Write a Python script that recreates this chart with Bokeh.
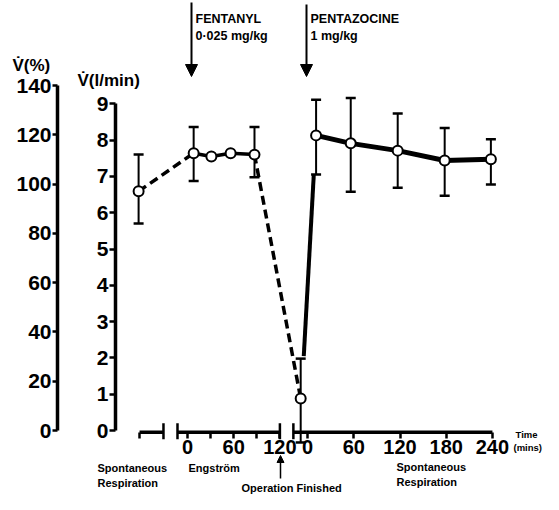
from bokeh.plotting import figure
from bokeh.models import Range1d, LinearAxis, FixedTicker, Label, Arrow, NormalHead
from bokeh.embed import file_html
from bokeh.resources import INLINE

# ---------------- data ----------------
# composite time axis: Engstrom minutes as-is, post-operative minutes shifted by POST_OFFSET
POST_OFFSET = 156
SPONT_POS = -63.5

spont_x = [SPONT_POS]
spont_v = [6.59]
spont_lo = [5.70]
spont_hi = [7.60]

eng_t = [8, 31, 56, 87]
eng_v = [7.64, 7.55, 7.64, 7.60]
eng_err_t = [8, 87]
eng_err_lo = [6.87, 6.98]
eng_err_hi = [8.36, 8.36]

end_t = [-9]          # operation finished (post-op clock)
end_v = [0.88]
end_lo = [-0.33]
end_hi = [1.98]

rise_t = [-5, 8]
rise_v = [2.05, 7.05]

post_t = [11, 56, 117, 178, 238]
post_v = [8.13, 7.91, 7.71, 7.44, 7.47]
post_lo = [7.05, 6.58, 6.69, 6.47, 6.78]
post_hi = [9.11, 9.16, 8.73, 8.33, 8.02]

lmin_ticks = [0, 1, 2, 3, 4, 5, 6, 7, 8, 9]
pct_ticks = [0, 20, 40, 60, 80, 100, 120, 140]
eng_ticks = [0, 60, 120]
eng_minor = [30, 90]
post_ticks = [0, 60, 120, 180, 240]
time_labels = ["0", "60", "120", "0", "60", "120", "180", "240"]

# pieces of the broken time axis (composite units)
axis_x0 = [-62.3, -13, 137.5]
axis_x1 = [-31.2, 120, 396]
axis_bars = [-31.2, -13, 137.5, 120]

# ---------------- layout helpers ----------------
PX0, PXM = 187.0, 0.77       # picture x of composite 0, px per minute
PY0, PYU = 430.0, 36.3       # picture y of 0 l/min, px per l/min
W, H = 543, 494


def px2x(X):
    return (X - PX0) / PXM


def px2y(Y):
    return (PY0 - Y) / PYU


x_start, x_end = px2x(0), px2x(W)
y_start, y_end = px2y(H), px2y(0)
PCT_F = 140.0 / px2y(85)

FONT = "Liberation Sans"

p = figure(width=W, height=H, x_range=Range1d(x_start, x_end),
           y_range=Range1d(y_start, y_end), output_backend="svg",
           toolbar_location=None, min_border=0)
p.outline_line_color = None
p.xgrid.visible = False
p.ygrid.visible = False
p.background_fill_color = "white"
p.border_fill_color = "white"
p.extra_y_ranges = {"pct": Range1d(y_start * PCT_F, y_end * PCT_F)}


def style_axis(ax, tick_out, size="21px"):
    ax.axis_line_width = 3.5
    ax.major_tick_line_width = 2.5
    ax.major_tick_out = tick_out
    ax.major_tick_in = 0
    ax.major_label_standoff = 1
    ax.major_label_text_font = FONT
    ax.major_label_text_font_style = "bold"
    ax.major_label_text_font_size = size
    ax.major_label_text_color = "black"


# l/min axis
ya = p.yaxis[0]
ya.fixed_location = px2x(115)
ya.ticker = FixedTicker(ticks=lmin_ticks, minor_ticks=[])
ya.bounds = (0, 9)
ya.minor_tick_line_color = None
style_axis(ya, 6)

# % axis
pa = LinearAxis(y_range_name="pct", fixed_location=px2x(57),
                ticker=FixedTicker(ticks=pct_ticks, minor_ticks=[]), bounds=(0, 140))
pa.minor_tick_line_color = None
style_axis(pa, 5)
p.add_layout(pa, "left")

# time axis
xa = p.xaxis[0]
xa.fixed_location = -0.05
major_pos = eng_ticks + [t + POST_OFFSET for t in post_ticks]
xa.ticker = FixedTicker(ticks=major_pos, minor_ticks=eng_minor + [axis_x0[0]])
xa.major_label_overrides = {pos: lab for pos, lab in zip(major_pos, time_labels)}
style_axis(xa, 6, "20px")
xa.axis_line_color = None
xa.minor_tick_line_width = 2.5
xa.minor_tick_out = 6
xa.minor_tick_in = 0
xa.major_label_standoff = 2

# axis pieces and break bars
p.segment(x0=axis_x0, y0=[-0.05] * 3, x1=axis_x1, y1=[-0.05] * 3,
          line_color="black", line_width=3.5)
p.segment(x0=axis_bars, y0=[-0.24] * 4, x1=axis_bars, y1=[0.2] * 4,
          line_color="black", line_width=2.5)

# ---------------- series ----------------
post_x = [t + POST_OFFSET for t in post_t]
end_x = [t + POST_OFFSET for t in end_t]
rise_x = [t + POST_OFFSET for t in rise_t]

DASH = "9 5"
p.line([spont_x[0], eng_t[0]], [spont_v[0], eng_v[0]], line_color="black",
       line_width=3.5, line_dash=DASH)
p.line(eng_t, eng_v, line_color="black", line_width=3.5)
p.line([eng_t[-1], end_x[0]], [eng_v[-1], end_v[0]], line_color="black",
       line_width=3.5, line_dash=DASH)
p.line(rise_x, rise_v, line_color="black", line_width=4)
p.line(post_x, post_v, line_color="black", line_width=5)

# error bars
err_x = spont_x + eng_err_t + end_x + post_x
err_lo = spont_lo + eng_err_lo + end_lo + post_lo
err_hi = spont_hi + eng_err_hi + end_hi + post_hi
p.segment(x0=err_x, y0=err_lo, x1=err_x, y1=err_hi, line_color="black", line_width=2)
p.scatter(x=err_x + err_x, y=err_lo + err_hi, marker="dash", size=10,
          line_color="black", line_width=2.5)

# points
all_x = spont_x + eng_t + end_x + post_x
all_v = spont_v + eng_v + end_v + post_v
p.scatter(x=all_x, y=all_v, marker="circle", size=10, fill_color="white",
          line_color="black", line_width=2)


# ---------------- annotations ----------------
def lab(text, X, Y, size):
    p.add_layout(Label(x=px2x(X), y=px2y(Y), text=text, text_font=FONT,
                       text_font_style="bold", text_font_size=size,
                       text_color="black", text_align="left", text_baseline="top"))


lab("V\u0307(%)", 12, 55, "17px")
lab("V\u0307(l/min)", 77, 70, "17px")
lab("FENTANYL", 195, 11, "12.5px")
lab("0\u00b7025 mg/kg", 195, 28, "12.5px")
lab("PENTAZOCINE", 310, 11, "12.5px")
lab("1 mg/kg", 310, 28, "12.5px")
lab("Spontaneous", 97, 461, "11px")
lab("Respiration", 97, 476, "11px")
lab("Engstr\u00f6m", 188, 461, "11px")
lab("Operation Finished", 241, 481, "11px")
lab("Spontaneous", 396, 460, "11px")
lab("Respiration", 396, 475, "11px")
lab("Time", 515, 428, "9.5px")
lab("(mins)", 513, 441, "9.5px")

for X, y0, y1 in [(191, 2, 76), (306, 4, 76)]:
    p.add_layout(Arrow(end=NormalHead(size=12, fill_color="black", line_color="black",
                                      line_width=1),
                       x_start=px2x(X), y_start=px2y(y0), x_end=px2x(X), y_end=px2y(y1),
                       line_color="black", line_width=2))
p.add_layout(Arrow(end=NormalHead(size=7, fill_color="black", line_color="black",
                                  line_width=1),
                   x_start=px2x(280), y_start=px2y(478), x_end=px2x(280), y_end=px2y(455),
                   line_color="black", line_width=1.5))

open("out.html", "w").write(file_html(p, INLINE))
